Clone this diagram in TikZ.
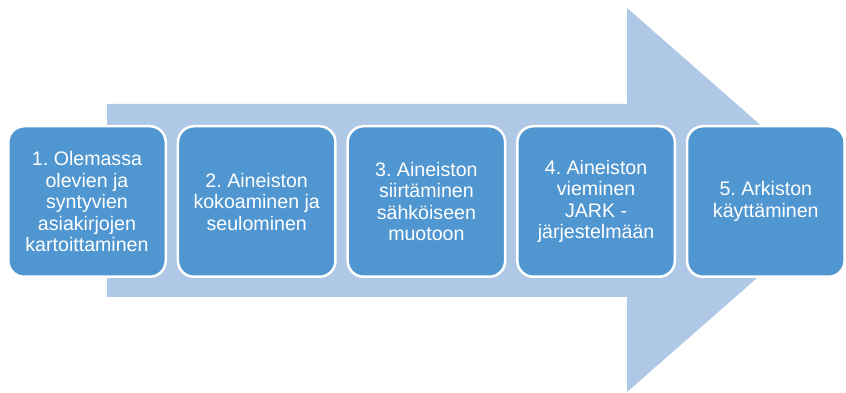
\documentclass[tikz,border=0pt]{standalone}
\usepackage{fontspec}
\setmainfont{Liberation Sans}
\frenchspacing
\definecolor{arrowblue}{RGB}{174,200,230}
\definecolor{boxblue}{RGB}{80,150,208}
\tikzset{
	stage/.style={draw=white,line width=2.5pt,fill=boxblue,rounded corners=16pt,
		minimum width=157.5pt,minimum height=150.5pt,text=white,align=center,
		inner sep=0pt,font=\fontsize{19.6}{21.5}\selectfont}
}

\begin{document}
\begin{tikzpicture}[x=1pt,y=1pt,line join=round]
			\useasboundingbox (0,0) rectangle (846,393);
			% large background arrow
			\fill[arrowblue] (107,289) -- (627,289) -- (627,385) -- (846,193) -- (627,1) -- (627,96) -- (107,96) -- cycle;
			% the five steps
			\node[stage] (s1) at (87,191.5) {1. Olemassa\\olevien ja\\syntyvien\\asiakirjojen\\kartoittaminen};
			\node[stage] (s2) at (256.7,191.5) {2. Aineiston\\kokoaminen ja\\seulominen};
			\node[stage] (s3) at (426.4,191.5) {3. Aineiston\\siirtäminen\\sähköiseen\\muotoon};
			\node[stage] (s4) at (596.1,191.5) {4. Aineiston\\vieminen\\JARK -\\järjestelmään};
			\node[stage] (s5) at (765.8,191.5) {5. Arkiston\\käyttäminen};
		\end{tikzpicture}
\end{document}
